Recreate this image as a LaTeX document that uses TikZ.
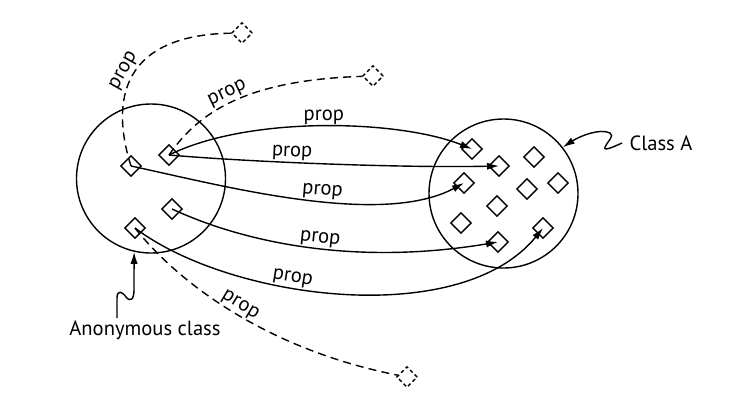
\documentclass[tikz,border=0pt]{standalone}
\usepackage{fontspec}
\setmainfont{PT Sans}
\usetikzlibrary{arrows.meta,shapes.geometric}

\begin{document}
\begin{tikzpicture}[x=0.5pt,y=-0.5pt,line width=0.7pt,font=\fontsize{10.3}{12}\selectfont,
  elem/.style={draw,diamond,aspect=1,minimum size=10.5pt,inner sep=0pt},
  ghost/.style={elem,dash pattern=on 1.8pt off 1.4pt},
  set/.style={draw,circle,minimum size=74.5pt,inner sep=0pt},
  rel/.style={-{Latex[length=6pt,width=3.6pt]}},
  hop/.style={dash pattern=on 4pt off 2.6pt},
  lbl/.style={above,sloped,inner sep=0.6pt}]
  \useasboundingbox (0,0) rectangle (737,408);
  % the two sets
  \node[set] (anon) at (151,178.5) {};
  \node[set] (clsA) at (503.5,193.5) {};
  % members of the anonymous class
  \node[elem] (a1) at (131,166) {};
  \node[elem] (a2) at (169,155) {};
  \node[elem] (a3) at (172,209) {};
  \node[elem] (a4) at (135,228) {};
  % members of class A
  \node[elem] (c1) at (472,149) {};
  \node[elem] (c2) at (499,166) {};
  \node[elem] (c3) at (534,157) {};
  \node[elem] (c4) at (464,183) {};
  \node[elem] (c5) at (527,189) {};
  \node[elem] (c6) at (558,183) {};
  \node[elem] (c7) at (497,206) {};
  \node[elem] (c8) at (461,223) {};
  \node[elem] (c9) at (498,242) {};
  \node[elem] (c10) at (543,228) {};
  % outside individuals
  \node[ghost] (o1) at (242,33) {};
  \node[ghost] (o2) at (373,76) {};
  \node[ghost] (o3) at (407,377) {};
  % props into class A
  \draw[rel] (a2.center) .. controls (250,115) and (400,120) .. node[lbl,pos=0.5] {prop} (c1.center);
  \draw[rel] (a2.center) .. controls (250,162) and (400,168) .. node[lbl,pos=0.4] {prop} (c2.center);
  \draw[rel] (a1.center) .. controls (220,185) and (380,228) .. node[lbl,pos=0.56] {prop} (c4.center);
  \draw[rel] (a3.center) .. controls (250,245) and (360,265) .. node[lbl,pos=0.52] {prop} (c9.center);
  \draw[rel] (a4.center) .. controls (230,300) and (460,330) .. node[lbl,pos=0.39] {prop} (c10.center);
  % props to the outside
  \draw[hop] (a1.center) .. controls (110,100) and (122,35) .. node[lbl,pos=0.5] {prop} (o1);
  \draw[hop] (a2.center) .. controls (200,110) and (250,80) .. node[lbl,pos=0.48] {prop} (o2);
  \draw[hop] (a4.center) .. controls (180,285) and (270,350) .. node[lbl,pos=0.5] {prop} (o3);
  % captions
  \node (clstxt) at (661,143) {Class A};
  \node (anontxt) at (145,330) {Anonymous class};
  \coordinate (anonfoot) at (117,318);
  \draw[rel] (clstxt.west) .. controls (615,146) and (603,152) .. (605,147)
    .. controls (607,142) and (615,136) .. (610,133)
    .. controls (600,128) and (580,136) .. (clsA.38);
  \draw[rel] (anonfoot) -- (117,298) .. controls (117,290) and (122,291) .. (126,297)
    .. controls (130,302) and (134,300) .. (134,290) -- (anon.-103);
\end{tikzpicture}
\end{document}
